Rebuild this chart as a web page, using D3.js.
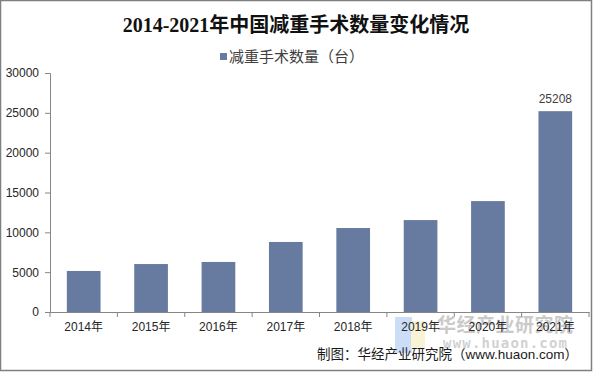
<!DOCTYPE html>
<html>
<head>
<meta charset="utf-8">
<script src="https://cdn.jsdelivr.net/npm/d3@7"></script>
<style>
  html, body { margin: 0; padding: 0; background: #fff; }
  svg { display: block; }
</style>
</head>
<body>
<svg id="chart" width="593" height="372"></svg>
<script>
/* ---- data ------------------------------------------------------- */
const years  = ["2014年", "2015年", "2016年", "2017年", "2018年", "2019年", "2020年", "2021年"];
const counts = [5150, 6020, 6280, 8790, 10540, 11540, 13920, 25208];
const yTicks = [0, 5000, 10000, 15000, 20000, 25000, 30000];
const labelled = ["2021年"];            // only the last bar carries a value label

const title      = "2014-2021年中国减重手术数量变化情况";
const seriesName = "减重手术数量（台）";
const source     = "制图：华经产业研究院（www.huaon.com）";

const W = 593, H = 372;
const plot = { left: 50, right: 589, top: 73, bottom: 312 };
const barColour = "#677a9f";
const axisColour = "#868686";
const sans = "'Liberation Sans', Arial, 'Noto Sans CJK SC', sans-serif";

const svg = d3.select("#chart");

/* ---- frame ------------------------------------------------------ */
svg.append("rect")
  .attr("x", 0.5).attr("y", 0.5)
  .attr("width", W - 2).attr("height", H - 2)
  .attr("fill", "#fff")
  .attr("stroke", "#7f7f7f")
  .attr("stroke-width", 1.5);

/* ---- scales ----------------------------------------------------- */
const x = d3.scaleBand(years, [plot.left, plot.right])
  .paddingInner(0.5)
  .paddingOuter(0.25);

const y = d3.scaleLinear([0, 30000], [plot.bottom, plot.top]);

/* ---- title + legend --------------------------------------------- */
svg.append("text")
  .attr("x", 296).attr("y", 32)
  .attr("text-anchor", "middle")
  .attr("font-family", "'Liberation Serif', 'Noto Sans CJK SC', serif")
  .attr("font-weight", "bold")
  .attr("font-size", 20)
  .attr("fill", "#111")
  .text(title);

const legend = svg.append("g").attr("transform", "translate(220,57)");
legend.append("rect")
  .attr("x", 0).attr("y", -4)
  .attr("width", 7).attr("height", 7)
  .attr("fill", barColour);
legend.append("text")
  .attr("x", 9).attr("y", 5)
  .attr("font-family", sans)
  .attr("font-size", 15)
  .attr("fill", "#404040")
  .text(seriesName);

/* ---- watermark -------------------------------------------------- */
const wm = svg.append("g").attr("opacity", 0.6);
wm.append("rect").attr("x", 395).attr("y", 317).attr("width", 17).attr("height", 36).attr("fill", "#a9c8f2");
wm.append("rect").attr("x", 411).attr("y", 321).attr("width", 14).attr("height", 28).attr("fill", "#f6ecbb");
wm.append("text")
  .attr("x", 437).attr("y", 332)
  .attr("textLength", 136)
  .attr("font-family", "'Noto Sans CJK SC', sans-serif")
  .attr("font-weight", "bold")
  .attr("font-size", 19)
  .attr("fill", "#a8a8a8")
  .text("华经产业研究院");
wm.append("text")
  .attr("x", 443).attr("y", 348)
  .attr("textLength", 124)
  .attr("font-family", "'DejaVu Sans Mono', monospace")
  .attr("font-weight", "bold")
  .attr("font-size", 14)
  .attr("fill", "#b4b4b4")
  .text("www.huaon.com");

/* ---- bars ------------------------------------------------------- */
svg.append("g")
  .selectAll("rect")
  .data(years)
  .join("rect")
    .attr("x", d => x(d))
    .attr("width", x.bandwidth())
    .attr("y", (d, i) => y(counts[i]))
    .attr("height", (d, i) => y(0) - y(counts[i]))
    .attr("fill", barColour);

svg.append("g")
  .selectAll("text")
  .data(years.map((d, i) => ({ year: d, value: counts[i] })).filter(d => labelled.includes(d.year)))
  .join("text")
    .attr("x", d => x(d.year) + x.bandwidth() / 2)
    .attr("y", d => y(d.value) - 8)
    .attr("text-anchor", "middle")
    .attr("font-family", sans)
    .attr("font-size", 12)
    .attr("fill", "#404040")
    .text(d => d.value);

/* ---- y axis ----------------------------------------------------- */
const yAxis = svg.append("g")
  .attr("transform", `translate(${plot.left},0)`)
  .call(d3.axisLeft(y).tickValues(yTicks).tickSize(5).tickPadding(6).tickFormat(d3.format("d")));
yAxis.selectAll("path, line").attr("stroke", axisColour);
yAxis.selectAll("text")
  .attr("font-family", sans)
  .attr("font-size", 12)
  .attr("fill", "#262626");

/* ---- x axis: labels centred, ticks on category boundaries ------- */
const xAxis = svg.append("g")
  .attr("transform", `translate(0,${plot.bottom})`)
  .call(d3.axisBottom(x).tickSize(0).tickPadding(10));
xAxis.select(".domain").attr("stroke", axisColour);
xAxis.selectAll("text")
  .attr("font-family", sans)
  .attr("font-size", 12)
  .attr("fill", "#262626");

xAxis.selectAll("line.edge")
  .data(d3.range(years.length + 1))
  .join("line")
    .attr("class", "edge")
    .attr("x1", i => plot.left + i * x.step())
    .attr("x2", i => plot.left + i * x.step())
    .attr("y1", 0).attr("y2", 5)
    .attr("stroke", axisColour);

/* ---- source ----------------------------------------------------- */
svg.append("text")
  .attr("x", 578).attr("y", 359)
  .attr("text-anchor", "end")
  .attr("font-family", sans)
  .attr("font-size", 13.5)
  .attr("fill", "#1a1a1a")
  .text(source);
</script>
</body>
</html>
